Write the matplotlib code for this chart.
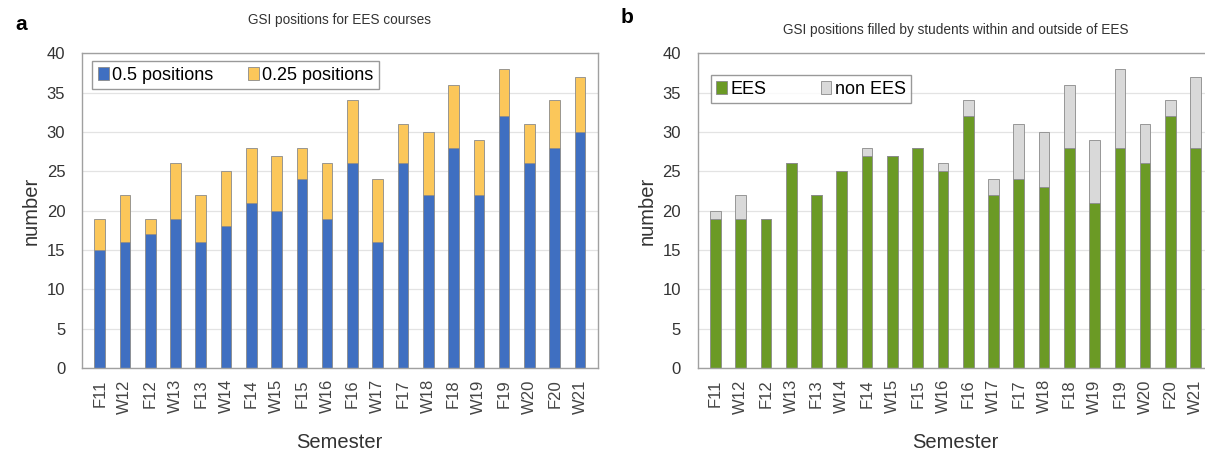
import matplotlib.pyplot as plt
import numpy as np

plt.rcParams['font.family'] = ['Liberation Sans', 'DejaVu Sans']

semesters = ["F11", "W12", "F12", "W13", "F13", "W14", "F14", "W15", "F15", "W16",
             "F16", "W17", "F17", "W18", "F18", "W19", "F19", "W20", "F20", "W21"]

# panel a: 0.5 and 0.25 positions
half_pos = [15, 16, 17, 19, 16, 18, 21, 20, 24, 19, 26, 16, 26, 22, 28, 22, 32, 26, 28, 30]
quarter_pos = [4, 6, 2, 7, 6, 7, 7, 7, 4, 7, 8, 8, 5, 8, 8, 7, 6, 5, 6, 7]

# panel b: EES vs non EES students
ees = [19, 19, 19, 26, 22, 25, 27, 27, 28, 25, 32, 22, 24, 23, 28, 21, 28, 26, 32, 28]
non_ees = [1, 3, 0, 0, 0, 0, 1, 0, 0, 1, 2, 2, 7, 7, 8, 8, 10, 5, 2, 9]

x = np.arange(len(semesters))
w = 0.42
edge = "#8a8a8a"

fig = plt.figure(figsize=(12.05, 4.55), dpi=100)
ax1 = fig.add_axes([0.068, 0.191, 0.428, 0.692])
ax2 = fig.add_axes([0.579, 0.191, 0.428, 0.692])


def style(ax):
    ax.set_ylim(0, 40)
    ax.set_xlim(-0.7, len(semesters) - 0.3)
    ax.set_yticks(range(0, 41, 5))
    ax.set_xticks(x)
    ax.set_xticklabels(semesters, rotation=90, fontsize=12, color="#444444")
    ax.tick_params(axis="y", labelsize=12, colors="#333333", length=0, pad=12)
    ax.tick_params(axis="x", length=0, pad=8)
    ax.yaxis.grid(True, color="#e3e3e3", lw=0.9)
    ax.set_axisbelow(True)
    for s in ax.spines.values():
        s.set_color("#a0a0a0")
        s.set_linewidth(1.0)
    ax.set_ylabel("number", fontsize=14.5, color="#333333", labelpad=4)
    ax.set_xlabel("Semester", fontsize=14.5, color="#333333", labelpad=14)


ax1.bar(x, half_pos, w, color="#3f6fc1", edgecolor=edge, lw=0.6, label="0.5 positions")
ax1.bar(x, quarter_pos, w, bottom=half_pos, color="#fbc75a", edgecolor=edge, lw=0.6,
        label="0.25 positions")
style(ax1)
ax1.legend(loc="upper left", ncol=2, fontsize=13, frameon=True, fancybox=False,
           edgecolor="#808080", handlelength=0.6, handletextpad=0.2, columnspacing=1.9,
           borderpad=0.3, borderaxespad=0.0, bbox_to_anchor=(0.02, 0.975))
ax1.set_title("GSI positions for EES courses", fontsize=9.8, color="#333333", pad=21)

ax2.bar(x, ees, w, color="#6b9a25", edgecolor=edge, lw=0.6, label="EES")
ax2.bar(x, non_ees, w, bottom=ees, color="#d9d9d9", edgecolor=edge, lw=0.6, label="non EES")
style(ax2)
ax2.legend(loc="upper left", ncol=2, fontsize=13, frameon=True, fancybox=False,
           edgecolor="#808080", handlelength=0.6, handletextpad=0.2, columnspacing=3.0,
           borderpad=0.3, borderaxespad=0.0, bbox_to_anchor=(0.025, 0.93))
ax2.set_title("GSI positions filled by students within and outside of EES", fontsize=9.8,
              color="#333333", pad=14)

fig.text(0.013, 0.935, "a", fontsize=15, fontweight="bold")
fig.text(0.515, 0.950, "b", fontsize=15, fontweight="bold")

fig.savefig("out.png", dpi=100)
